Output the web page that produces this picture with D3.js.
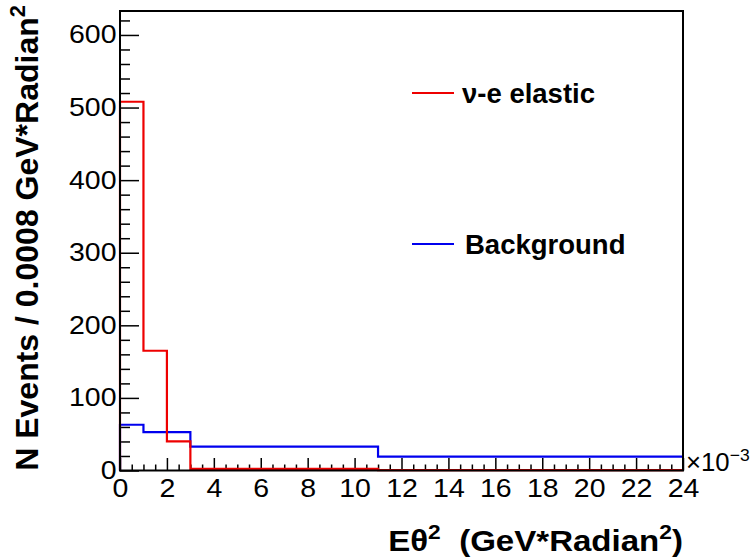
<!DOCTYPE html>
<html><head><meta charset="utf-8">
<script src="https://cdn.jsdelivr.net/npm/d3@7"></script>
<style>body{margin:0;background:#fff;} svg{display:block;}</style>
</head><body>
<svg id="c" width="755" height="558"></svg>
<script>
// Data (x in units of 10^-3 GeV*Radian^2)
const binEdges = [0, 1, 2, 3, 11, 24];
const signalCounts = [508, 165, 40, 2.3, 0.5];
const backgroundCounts = [63, 53, 53, 33, 19];
const xTicks = [0, 2, 4, 6, 8, 10, 12, 14, 16, 18, 20, 22, 24];
const yTicks = [0, 100, 200, 300, 400, 500, 600];
const legendLabels = ["\u03bd-e elastic", "Background"];

const W = 755, H = 558;
const m = {left: 120, right: 683, top: 11, bottom: 470.5};
const svg = d3.select("#c");
const font = "'Liberation Sans', Arial, Helvetica, sans-serif";
const SX = 1.14; // horizontal stretch of the reference text

const x = d3.scaleLinear().domain([0, 24]).range([m.left, m.right]);
const y = d3.scaleLinear().domain([0, 633]).range([m.bottom, m.top]);

// minor ticks
const xMinor = d3.range(0, 24.001, 0.5).filter(v => Math.abs(v/2 - Math.round(v/2)) > 1e-6);
const yMinor = d3.range(0, 633, 20).filter(v => v % 100 !== 0);

const gx = svg.append("g").attr("transform", `translate(0,${m.bottom})`);
gx.call(d3.axisBottom(x).tickValues(xMinor).tickSize(-6).tickFormat(""));
gx.call(g => g.select(".domain").remove());
const gx2 = svg.append("g").attr("transform", `translate(0,${m.bottom})`);
gx2.call(d3.axisBottom(x).tickValues(xTicks).tickSize(-12.5).tickPadding(9).tickFormat(d3.format("d")));
gx2.call(g => g.select(".domain").remove());
gx2.selectAll("text").attr("font-size", 25).attr("font-family", font).attr("fill", "#000").attr("dy", "0.71em")
  .attr("transform", `scale(${SX},1)`);

const gy = svg.append("g").attr("transform", `translate(${m.left},0)`);
gy.call(d3.axisLeft(y).tickValues(yMinor).tickSize(-10).tickFormat(""));
gy.call(g => g.select(".domain").remove());
const gy2 = svg.append("g").attr("transform", `translate(${m.left},0)`);
gy2.call(d3.axisLeft(y).tickValues(yTicks).tickSize(-19).tickPadding(3.5).tickFormat(d3.format("d")));
gy2.call(g => g.select(".domain").remove());
gy2.selectAll("text").attr("font-size", 25).attr("font-family", font).attr("fill", "#000")
  .attr("transform", `scale(${SX},1)`).attr("x", -3.5 / SX);

svg.selectAll(".tick line").attr("stroke", "#000").attr("stroke-width", 1.5);

// histograms
function histPath(counts) {
  const p = d3.path();
  p.moveTo(x(binEdges[0]), y(0));
  counts.forEach((c, i) => {
    p.lineTo(x(binEdges[i]), y(c));
    p.lineTo(x(binEdges[i+1]), y(c));
  });
  return p.toString();
}
svg.append("path").attr("d", histPath(backgroundCounts)).attr("fill", "none").attr("stroke", "#0000ee").attr("stroke-width", 2.2);
svg.append("path").attr("d", histPath(signalCounts)).attr("fill", "none").attr("stroke", "#ee0000").attr("stroke-width", 2.2);

// frame
svg.append("rect").attr("x", m.left).attr("y", m.top).attr("width", m.right - m.left).attr("height", m.bottom - m.top)
  .attr("fill", "none").attr("stroke", "#000").attr("stroke-width", 2);

// exponent label
const ex = svg.append("text").attr("transform", `translate(686,471) scale(1.03,1)`)
  .attr("font-family", font).attr("font-size", 25).attr("fill", "#000");
ex.append("tspan").text("\u00d710");
ex.append("tspan").attr("font-size", 17).attr("dy", -10).text("\u22123");

// legend
const legColors = ["#ee0000", "#0000ee"];
const legY = [93, 244];
legendLabels.forEach((lab, i) => {
  svg.append("line").attr("x1", 412).attr("x2", 454).attr("y1", legY[i]).attr("y2", legY[i])
    .attr("stroke", legColors[i]).attr("stroke-width", 2.2);
  svg.append("text").attr("x", i === 0 ? 462 : 465).attr("y", legY[i] + 9.5).attr("font-family", font)
    .attr("font-weight", "bold").attr("font-size", 27.5).attr("fill", "#000").text(lab);
});

// x title
const xt = svg.append("text").attr("transform", `translate(683,551) scale(${SX},1)`).attr("text-anchor", "end")
  .attr("font-family", font).attr("font-weight", "bold").attr("font-size", 29).attr("fill", "#000");
xt.append("tspan").text("E\u03b8");
xt.append("tspan").attr("font-size", 20).attr("dy", -12).text("2");
xt.append("tspan").attr("dy", 12).text("\u00a0 (GeV*Radian");
xt.append("tspan").attr("font-size", 20).attr("dy", -12).text("2");
xt.append("tspan").attr("dy", 12).text(")");

// y title
const yt = svg.append("text").attr("transform", "translate(38,5) rotate(-90)").attr("text-anchor", "end")
  .attr("font-family", font).attr("font-weight", "bold").attr("font-size", 32).attr("fill", "#000");
yt.append("tspan").text("N Events / 0.0008 GeV*Radian");
yt.append("tspan").attr("font-size", 22).attr("dy", -13).text("2");
</script>
</body></html>
